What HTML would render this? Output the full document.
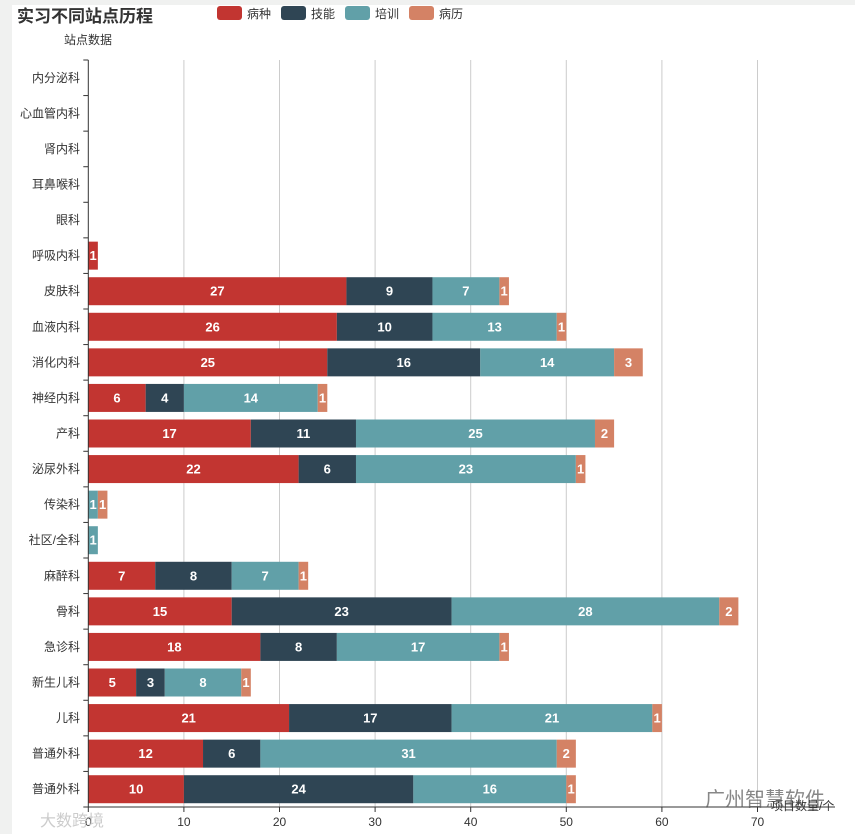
<!DOCTYPE html>
<html><head><meta charset="utf-8"><style>
html,body{margin:0;padding:0;background:#f0f1f0;}
#wrap{position:absolute;left:12px;top:5px;width:843px;height:829px;background:#fff;}
svg{position:absolute;left:0;top:0;}
text{font-family:"Liberation Sans","Noto Sans CJK SC",sans-serif;}
</style></head><body>
<div id="wrap"></div>
<svg id="chart" width="855" height="834"></svg>
<script>
const categories=["内分泌科","心血管内科","肾内科","耳鼻喉科","眼科","呼吸内科","皮肤科","血液内科","消化内科","神经内科","产科","泌尿外科","传染科","社区/全科","麻醉科","骨科","急诊科","新生儿科","儿科","普通外科","普通外科"];
const seriesNames=["病种","技能","培训","病历"];
const bingzhong=[0,0,0,0,0,1,27,26,25,6,17,22,0,0,7,15,18,5,21,12,10];
const jineng=[0,0,0,0,0,0,9,10,16,4,11,6,0,0,8,23,8,3,17,6,24];
const peixun=[0,0,0,0,0,0,7,13,14,14,25,23,1,1,7,28,17,8,21,31,16];
const bingli=[0,0,0,0,0,0,1,1,3,1,2,1,1,0,1,2,1,1,1,2,1];
const xTicks=[0,10,20,30,40,50,60,70];
const colors=["#c23531","#2f4554","#61a0a8","#d48265"];
const series=[bingzhong,jineng,peixun,bingli];
const NS="http://www.w3.org/2000/svg";
const svg=document.getElementById('chart');
const x0=88.3,scale=9.56,plotTop=60,plotBottom=807,band=(plotBottom-plotTop)/categories.length,barH=28;
const xs=v=>x0+v*scale;
const yc=i=>plotTop+band*(i+0.5);
function mk(tag,attrs,txt){const e=document.createElementNS(NS,tag);for(const k in attrs)e.setAttribute(k,attrs[k]);if(txt!==undefined)e.textContent=txt;svg.appendChild(e);return e;}
let t=mk('text',{x:17,y:22,'font-size':17,'font-weight':'bold',fill:'#333'},'实习不同站点历程');


t=mk('text',{x:64,y:44,'font-size':12,fill:'#333'},'站点数据');


seriesNames.forEach((n,i)=>{
 const lx=217+i*64;
 const r=mk('rect',{x:lx,y:6,width:25,height:14,rx:3,fill:colors[i]});
 
 
 const tx=mk('text',{x:lx+30,y:18,'font-size':12,fill:'#333'},n);
 
 
});
xTicks.forEach(v=>{
 if(v>0){const g=mk('line',{x1:xs(v),x2:xs(v),y1:plotTop,y2:plotBottom,stroke:'#ccc','stroke-width':1});
 
 }
 const l=mk('text',{x:xs(v),y:826,'font-size':12,fill:'#333','text-anchor':'middle'},String(v));
 
 
 const tk=mk('line',{x1:xs(v),x2:xs(v),y1:plotBottom,y2:plotBottom+5,stroke:'#333'});
 
 
});
categories.forEach((c,i)=>{
 const lab=mk('text',{x:80,y:yc(i)+4,'font-size':12,fill:'#333','text-anchor':'end'},c);
 
 
 let acc=0;
 series.forEach((s,j)=>{
  const v=s[i]; if(!v) return;
  const r=mk('rect',{x:xs(acc),y:yc(i)-barH/2,width:xs(acc+v)-xs(acc),height:barH,fill:colors[j]});
  
  
  const tx=mk('text',{x:(xs(acc)+xs(acc+v))/2,y:yc(i)+4.5,'font-size':13,'font-weight':'bold',fill:'#fff','text-anchor':'middle'},String(v));
  
  
  acc+=v;
 });
});
for(let i=0;i<=categories.length;i++){
 const tk=mk('line',{x1:x0-5,x2:x0,y1:plotTop+band*i,y2:plotTop+band*i,stroke:'#333'});
 
 
}
let ax=mk('line',{x1:x0,x2:x0,y1:plotTop,y2:plotBottom,stroke:'#333'});


ax=mk('line',{x1:x0,x2:835,y1:plotBottom,y2:plotBottom,stroke:'#333'});


t=mk('text',{x:771,y:810,'font-size':12,fill:'#333'},'项目数量/个');


t=mk('text',{x:705,y:806,'font-size':20,fill:'#555','opacity':0.7},'广州智慧软件');


t=mk('text',{x:40,y:826,'font-size':16,fill:'#ccc'},'大数跨境');


</script>
</body></html>
